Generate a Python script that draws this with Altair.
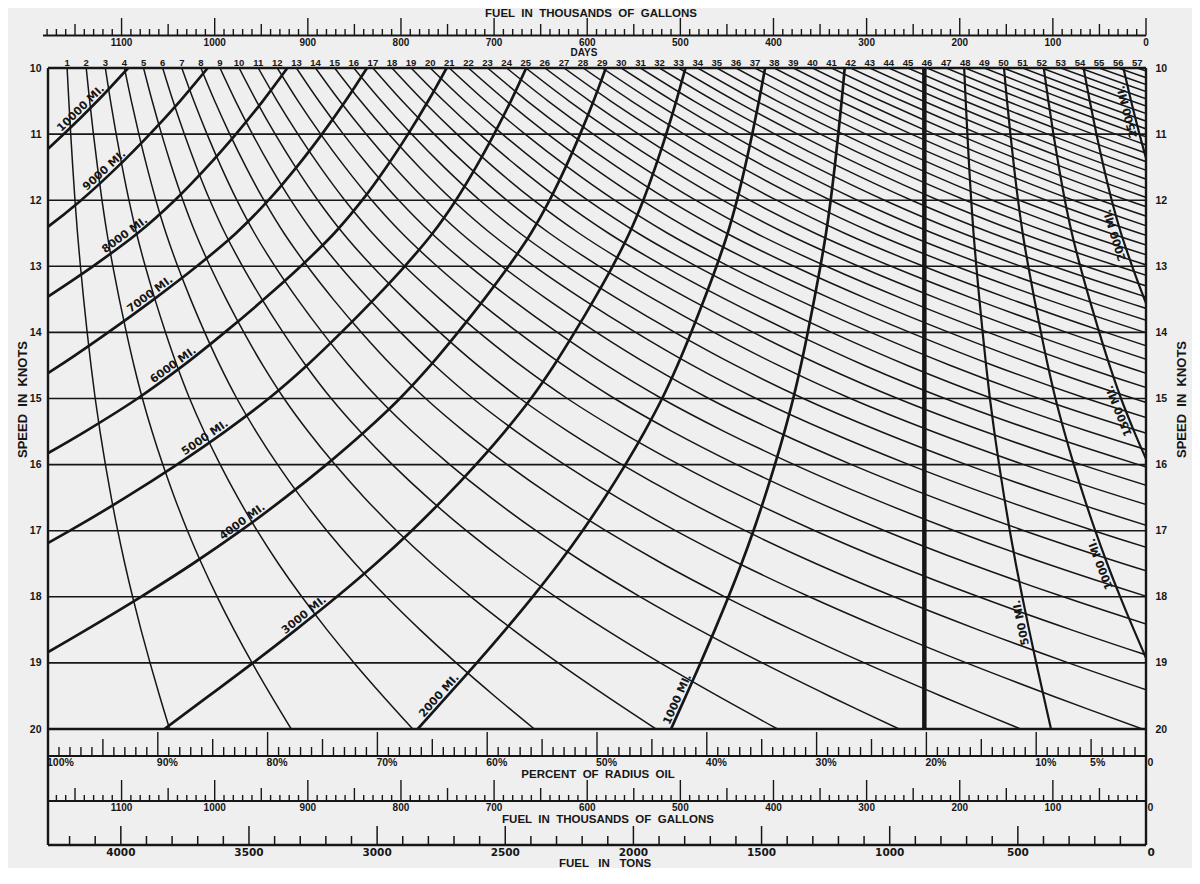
import math
import numpy as np
import pandas as pd
import altair as alt

# ---------------- values ----------------
# fuel burned per mile (thousand gallons) at each speed (knots)
speeds = [10.0, 10.5, 11.0, 11.5, 12.0, 12.5, 13.0, 13.5, 14.0, 14.5, 15.0,
          15.5, 16.0, 16.5, 17.0, 17.5, 18.0, 18.5, 19.0, 19.5, 20.0]
fuel_per_mile = [0.0855, 0.0888, 0.0924, 0.0963, 0.1006, 0.1056, 0.1116, 0.1182,
                 0.1252, 0.1326, 0.1408, 0.1502, 0.1605, 0.1716, 0.1835, 0.1964,
                 0.2103, 0.2250, 0.2403, 0.2561, 0.2720]
full_fuel = 1179          # thousand gallons = 100 % radius oil
reserve_fuel = 238        # thousand gallons at the heavy reserve line
days = list(range(1, 58))
miles_left = [1000, 2000, 3000, 4000, 5000, 6000, 7000, 8000, 9000, 10000]
label_speed_left = [19.59, 19.56, 18.35, 16.94, 15.67, 14.57, 13.50, 12.60, 11.62, 10.68]
miles_right = [500, 1000, 1500, 2000, 2500]
label_speed_right = [18.37, 17.47, 15.15, 12.50, 10.64]
speed_ticks = [10, 11, 12, 13, 14, 15, 16, 17, 18, 19, 20]
gallon_labels = [0, 100, 200, 300, 400, 500, 600, 700, 800, 900, 1000, 1100]
top_gallon_max = 1180
bottom_gallon_max = 1170
percent_labels = [100, 90, 80, 70, 60, 50, 40, 30, 20, 10, 5, 0]
ton_labels = [0, 500, 1000, 1500, 2000, 2500, 3000, 3500, 4000]
tons_max = 4200
kgal_per_ton = 0.2752

# ---------------- layout ----------------
W, H = 1098, 661
X0, Y0 = 48, 68
PXX = W / full_fuel
PXY = H / 10.0
INK = "#161616"
FONT = "Liberation Sans"
WIDE = "DejaVu Sans"
NB = "\u00a0"


def vy(py):
    return 10 + (py - Y0) / PXY


def fx(px):
    return (X0 + W - px) / PXX


reserve = reserve_fuel

xs = alt.Scale(domain=[0, full_fuel], reverse=True, nice=False, zero=False)
ys = alt.Scale(domain=[10, 20], reverse=True, nice=False, zero=False)


def X():
    return alt.X("F:Q", scale=xs, axis=None)


def Y(axis=None):
    return alt.Y("V:Q", scale=ys, axis=axis)


def rule_layer(rows, width, axis=None):
    df = pd.DataFrame(rows)
    return alt.Chart(df).mark_rule(color=INK, strokeWidth=width).encode(
        x=X(), x2=alt.X2("F2"), y=Y(axis), y2=alt.Y2("V2"))


def text_layer(rows, size, font=FONT, align="center", baseline="middle",
               dx=0, dy=0, angled=False):
    df = pd.DataFrame(rows)
    enc = dict(x=X(), y=Y(), text=alt.Text("label:N"))
    if angled:
        enc["angle"] = alt.Angle("ang:Q", scale=None)
    return alt.Chart(df).mark_text(
        font=font, fontSize=size, fontWeight="bold", color=INK,
        align=align, baseline=baseline, dx=dx, dy=dy).encode(**enc)


def curve_layer(rows, key, width):
    df = pd.DataFrame(rows)
    return alt.Chart(df).mark_line(
        color=INK, strokeWidth=width, clip=True, interpolate="catmull-rom"
    ).encode(x=X(), y=Y(), detail=f"{key}:N", order=alt.Order("V:Q"))


def c_at(v):
    return float(np.interp(v, speeds, fuel_per_mile))


def dc_at(v):
    return (c_at(v + 0.1) - c_at(v - 0.1)) / 0.2


# ---------------- curves ----------------
day_rows = [{"T": t, "V": v, "F": full_fuel - 24 * t * v * c}
            for t in days for v, c in zip(speeds, fuel_per_mile)]
left_rows = [{"D": d, "V": v, "F": reserve + d * c}
             for d in miles_left for v, c in zip(speeds, fuel_per_mile)]
right_rows = [{"D": d, "V": v, "F": reserve - d * c}
              for d in miles_right for v, c in zip(speeds, fuel_per_mile)]

left_labels = []
for d, v in zip(miles_left, label_speed_left):
    ang = math.degrees(math.atan2(-PXY, PXX * d * dc_at(v))) % 360
    left_labels.append({"F": reserve + d * c_at(v), "V": v, "ang": ang,
                        "label": f"{d} MI."})
right_labels = []
for d, v in zip(miles_right, label_speed_right):
    ang = math.degrees(math.atan2(-PXY, -PXX * d * dc_at(v))) % 360
    right_labels.append({"F": reserve - d * c_at(v), "V": v, "ang": ang,
                         "label": f"{d} MI."})

# ---------------- axes for speed ----------------
axis_common = dict(values=speed_ticks, format="d", domain=False, ticks=False,
                   grid=False, labelFont=FONT, labelFontSize=10.5,
                   labelFontWeight="bold", labelColor=INK,
                   title=f"SPEED {NB}IN {NB}KNOTS", titleFont=FONT,
                   titleFontSize=13, titleFontWeight="bold", titleColor=INK,
                   titleAngle=270, titleY=331, titleAlign="center",
                   titleBaseline="middle")
left_axis = alt.Axis(orient="left", labelPadding=7, titleX=-26, **axis_common)
right_axis = alt.Axis(orient="right", labelPadding=9, titleX=35, **axis_common)

layers = []
# speed grid
layers.append(rule_layer([{"F": full_fuel, "F2": 0, "V": s, "V2": s}
                          for s in speed_ticks[1:-1]], 1.6, left_axis))
# day curves and mileage curves
layers.append(curve_layer(day_rows, "T", 1.5))
layers.append(curve_layer(left_rows, "D", 2.7))
layers.append(curve_layer(right_rows, "D", 2.2))
# reserve line
layers.append(rule_layer([{"F": reserve, "F2": reserve, "V": 10, "V2": 20}], 4.5))
# box top / bottom
layers.append(rule_layer([{"F": full_fuel, "F2": 0, "V": s, "V2": s}
                          for s in (10, 20)], 2.6, right_axis))

# frame sides down through the lower scales
P_BASE, G_BASE, T_BASE = 756, 801, 845
layers.append(rule_layer([{"F": f, "F2": f, "V": 10, "V2": vy(T_BASE)}
                          for f in (full_fuel, 0)], 2.4))

# ---- top gallons scale ----
TOP_BASE = 35.5
layers.append(rule_layer([{"F": fx(43), "F2": 0, "V": vy(TOP_BASE), "V2": vy(TOP_BASE)}], 1.9))
top_ticks = []
for g in range(0, top_gallon_max + 1, 10):
    top = 18 if g % 100 == 0 else (24 if g % 50 == 0 else 29)
    top_ticks.append({"F": g, "F2": g, "V": vy(TOP_BASE), "V2": vy(top)})
layers.append(rule_layer(top_ticks, 1.4))
layers.append(text_layer([{"F": g, "V": vy(42.5), "label": str(g)}
                          for g in gallon_labels], 10))
layers.append(text_layer([{"F": fx(591), "V": vy(13.5),
                           "label": f"FUEL {NB}IN {NB}THOUSANDS {NB}OF {NB}GALLONS"}], 11.5))
layers.append(text_layer([{"F": fx(584), "V": vy(53.2), "label": "DAYS"}], 10))
layers.append(text_layer([{"F": full_fuel - 24 * t * speeds[0] * fuel_per_mile[0],
                           "V": vy(63), "label": str(t)} for t in days], 9.5))

# ---- percent of radius oil ----
layers.append(rule_layer([{"F": full_fuel, "F2": 0, "V": vy(P_BASE), "V2": vy(P_BASE)}], 2.0))
p_ticks = []
for p in range(0, 101):
    top = 732 if p % 10 == 0 else (739 if p % 5 == 0 else 747)
    f = p / 100 * full_fuel
    p_ticks.append({"F": f, "F2": f, "V": vy(P_BASE), "V2": vy(top)})
layers.append(rule_layer(p_ticks, 1.4))
layers.append(text_layer([{"F": p / 100 * full_fuel, "V": vy(763),
                           "label": f"{p}%"} for p in percent_labels if p],
                         10.5, align="left", dx=-1))
layers.append(text_layer([{"F": fx(598), "V": vy(774.5),
                           "label": f"PERCENT {NB}OF {NB}RADIUS {NB}OIL"}], 11.5))

# ---- lower gallons scale ----
layers.append(rule_layer([{"F": full_fuel, "F2": 0, "V": vy(G_BASE), "V2": vy(G_BASE)}], 2.0))
g_ticks = []
for g in range(0, bottom_gallon_max + 1, 10):
    top = 780 if g % 100 == 0 else (788 if g % 50 == 0 else 795)
    g_ticks.append({"F": g, "F2": g, "V": vy(G_BASE), "V2": vy(top)})
layers.append(rule_layer(g_ticks, 1.4))
layers.append(text_layer([{"F": g, "V": vy(807.5), "label": str(g)}
                          for g in gallon_labels if g], 10))
layers.append(text_layer([{"F": fx(608), "V": vy(819.5),
                           "label": f"FUEL {NB}IN {NB}THOUSANDS {NB}OF {NB}GALLONS"}], 11.5))

# ---- tons scale ----
layers.append(rule_layer([{"F": full_fuel, "F2": 0, "V": vy(T_BASE), "V2": vy(T_BASE)}], 2.4))
t_ticks = []
for t in range(100, tons_max + 1, 100):
    top = 826 if t % 500 == 0 else 836
    f = t * kgal_per_ton
    t_ticks.append({"F": f, "F2": f, "V": vy(T_BASE), "V2": vy(top)})
layers.append(rule_layer(t_ticks, 1.5))
layers.append(text_layer([{"F": t * kgal_per_ton, "V": vy(853), "label": str(t)}
                          for t in ton_labels if t], 10.5, font=WIDE))
layers.append(text_layer([{"F": fx(605), "V": vy(863.5),
                           "label": f"FUEL {NB} IN {NB} TONS"}], 11.5))

# zero labels at the right end of the lower scales, just right of the frame
layers.append(text_layer([{"F": 0, "V": vy(763), "label": "0"},
                          {"F": 0, "V": vy(807.5), "label": "0"}],
                         10.5, align="left", dx=1.5))
layers.append(text_layer([{"F": 0, "V": vy(853), "label": "0"}],
                         10.5, font=WIDE, align="left", dx=1.5))

# ---- mileage labels ----
layers.append(text_layer(left_labels, 11, font=WIDE, baseline="bottom", dy=-1, angled=True))
layers.append(text_layer(right_labels, 11, font=WIDE, baseline="bottom", dy=-1, angled=True))

chart = alt.layer(*layers).properties(
    width=W, height=H,
    autosize=alt.AutoSizeParams(type="none"),
    padding={"left": 40, "top": 60, "right": 46, "bottom": 139},
    background="#efefef",
).resolve_axis(y="independent").configure_view(stroke=None)

chart.save("out.html", embed_options={"renderer": "svg", "actions": False})
